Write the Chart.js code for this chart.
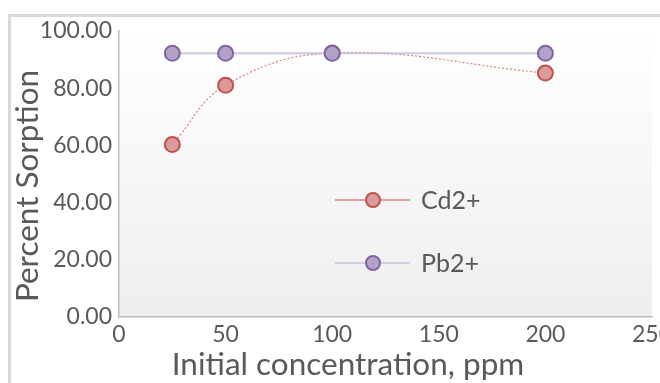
<!DOCTYPE html>
<html>
<head>
<meta charset="utf-8">
<script src="https://cdn.jsdelivr.net/npm/chart.js@4"></script>
<style>
  html, body { margin: 0; padding: 0; background: #ffffff; overflow: hidden; width: 660px; height: 383px; }
  #frame { position: absolute; left: 8px; top: 14px; width: 700px; height: 400px; border-left: 3px solid #d9d9d9; border-top: 3px solid #d9d9d9; }
  #wrap { position: absolute; left: 0; top: 0; width: 690px; height: 383px; }
</style>
</head>
<body>
<div id="frame"></div>
<div id="wrap"><canvas id="c" width="690" height="383"></canvas></div>
<script>
const concentrations = [25, 50, 100, 200];
const cdValues = [60.3, 81.0, 92.3, 85.3];
const pbValues = [92.2, 92.2, 92.2, 92.2];
const seriesNames = ['Cd2+', 'Pb2+'];
const xTicks = [0, 50, 100, 150, 200, 250];
const yTicks = [0, 20, 40, 60, 80, 100];
const xTitle = 'Initial concentration, ppm';
const yTitle = 'Percent Sorption';

const FONT = 'Lato';
const TXT = '#595959';
const cdStyle = { line: 'rgba(214,110,107,0.85)', fill: '#dc9a98', border: '#c0504d' };
const pbStyle = { line: 'rgba(190,175,215,0.7)', fill: '#b3a2c7', border: '#8064a2' };

const bgPlugin = {
  id: 'bg',
  beforeDraw(chart) {
    const a = chart.chartArea, ctx = chart.ctx;
    const g = ctx.createLinearGradient(0, a.top, 0, a.bottom);
    g.addColorStop(0, '#ffffff');
    g.addColorStop(1, '#eeeeee');
    ctx.save();
    ctx.fillStyle = g;
    ctx.fillRect(a.left, a.top, a.right - a.left, a.bottom - a.top);
    ctx.restore();
  }
};

const titlePlugin = {
  id: 'axisTitles',
  afterDraw(chart) {
    const ctx = chart.ctx;
    ctx.save();
    ctx.fillStyle = TXT;
    ctx.font = '31.5px ' + FONT;
    ctx.textAlign = 'center';
    ctx.textBaseline = 'alphabetic';
    ctx.fillText(xTitle, 348, 375);
    ctx.translate(38, 186);
    ctx.rotate(-Math.PI / 2);
    ctx.fillText(yTitle, 0, 0);
    ctx.restore();
  }
};

const legendPlugin = {
  id: 'innerLegend',
  afterDatasetsDraw(chart) {
    const ctx = chart.ctx;
    const items = [
      { name: seriesNames[0], st: cdStyle },
      { name: seriesNames[1], st: pbStyle }
    ];
    const x0 = 335, x1 = 410, mx = 373, tx = 421;
    const rows = [200, 263];
    ctx.save();
    items.forEach((it, i) => {
      const y = rows[i];
      ctx.strokeStyle = it.st.line;
      ctx.lineWidth = 1.5;
      ctx.beginPath(); ctx.moveTo(x0, y); ctx.lineTo(x1, y); ctx.stroke();
      ctx.beginPath(); ctx.arc(mx, y, 7, 0, Math.PI * 2);
      ctx.fillStyle = it.st.fill; ctx.fill();
      ctx.lineWidth = 2; ctx.strokeStyle = it.st.border; ctx.stroke();
      ctx.fillStyle = TXT;
      ctx.font = '25px ' + FONT;
      ctx.textBaseline = 'middle';
      ctx.textAlign = 'left';
      ctx.fillText(it.name, tx, y + 1);
    });
    ctx.restore();
  }
};

new Chart(document.getElementById('c'), {
  type: 'line',
  data: {
    datasets: [
      {
        label: seriesNames[1],
        data: concentrations.map((x, i) => ({ x, y: pbValues[i] })),
        borderColor: pbStyle.line,
        borderWidth: 2,
        backgroundColor: pbStyle.fill,
        pointBackgroundColor: pbStyle.fill,
        pointBorderColor: pbStyle.border,
        pointBorderWidth: 2,
        pointRadius: 7.5,
        tension: 0,
        order: 0
      },
      {
        label: seriesNames[0],
        data: concentrations.map((x, i) => ({ x, y: cdValues[i] })),
        borderColor: cdStyle.line,
        borderWidth: 1.2,
        borderDash: [2, 2],
        backgroundColor: cdStyle.fill,
        pointBackgroundColor: cdStyle.fill,
        pointBorderColor: cdStyle.border,
        pointBorderWidth: 2,
        pointRadius: 7.5,
        tension: 0.4,
        order: 1
      }
    ]
  },
  options: {
    responsive: false,
    animation: false,
    devicePixelRatio: 1,
    layout: { padding: { top: 31, right: 38, left: 0, bottom: 0 } },
    plugins: { legend: { display: false }, tooltip: { enabled: false } },
    scales: {
      x: {
        type: 'linear',
        min: 0, max: 250,
        afterBuildTicks(s) { s.ticks = xTicks.map(v => ({ value: v })); },
        grid: { display: false, drawTicks: false },
        border: { display: true, color: '#bfbfbf', width: 1.5 },
        ticks: { color: TXT, font: { family: FONT, size: 23 }, padding: 4, maxRotation: 0 },
        title: { display: false, text: xTitle },
        afterFit(s) { s.height = 66; }
      },
      y: {
        min: 0, max: 100,
        afterBuildTicks(s) { s.ticks = yTicks.map(v => ({ value: v })); },
        grid: { display: false, drawTicks: false },
        border: { display: true, color: '#bfbfbf', width: 1.5 },
        ticks: { color: TXT, font: { family: FONT, size: 23 }, padding: 7, callback: v => Number(v).toFixed(2) },
        title: { display: false, text: yTitle },
        afterFit(s) { s.width = 119; }
      }
    }
  },
  plugins: [bgPlugin, legendPlugin, titlePlugin]
});
</script>
</body>
</html>
